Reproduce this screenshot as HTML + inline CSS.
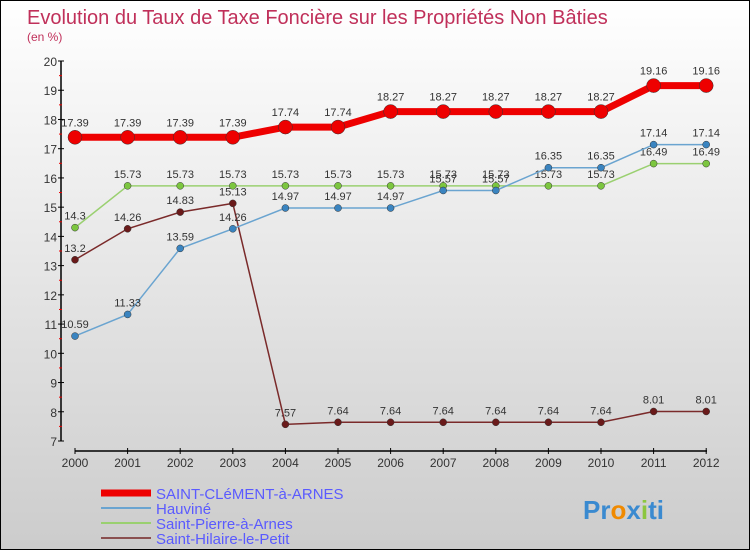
<!DOCTYPE html>
<html><head><meta charset="utf-8"><style>
body{margin:0}
#wrap{width:748px;height:548px;border:1px solid #000;background:linear-gradient(#fff,#ccc);position:relative;overflow:hidden;font-family:"Liberation Sans",sans-serif}
svg text{font-family:"Liberation Sans",sans-serif}
</style></head><body>
<div id="wrap">
<svg id="svg" width="748" height="548">
<text x="26" y="23" font-size="20" fill="#c0305a">Evolution du Taux de Taxe Foncière sur les Propriétés Non Bâties</text>
<text x="26" y="40" font-size="12" fill="#c0305a">(en %)</text>
<g id="axes"></g><g id="series"></g><g id="legend"></g>
<text x="582" y="518" font-size="26" font-weight="bold" fill="#3a8ad0">Pr<tspan fill="#f08a00">o</tspan>x<tspan fill="#8cc63f">i</tspan>ti</text>
</svg></div>
<script>
const years=[2000,2001,2002,2003,2004,2005,2006,2007,2008,2009,2010,2011,2012];
const yTicks=[7,8,9,10,11,12,13,14,15,16,17,18,19,20];
const seriesNames=["SAINT-CLéMENT-à-ARNES","Hauviné","Saint-Pierre-à-Arnes","Saint-Hilaire-le-Petit"];
const sClement=[17.39,17.39,17.39,17.39,17.74,17.74,18.27,18.27,18.27,18.27,18.27,19.16,19.16];
const sHauvine=[10.59,11.33,13.59,14.26,14.97,14.97,14.97,15.57,15.57,16.35,16.35,17.14,17.14];
const sPierre=[14.3,15.73,15.73,15.73,15.73,15.73,15.73,15.73,15.73,15.73,15.73,16.49,16.49];
const sHilaire=[13.2,14.26,14.83,15.13,7.57,7.64,7.64,7.64,7.64,7.64,7.64,8.01,8.01];
const NS="http://www.w3.org/2000/svg";
const X=i=>74+i*52.6;
const Y=v=>440-(v-7)*29.23;
function mk(tag,attrs,parent,txt){const e=document.createElementNS(NS,tag);for(const k in attrs)e.setAttribute(k,attrs[k]);if(txt!==undefined)e.textContent=txt;parent.appendChild(e);return e;}
const ax=document.getElementById('axes');
let e=mk('line',{x1:60,y1:60,x2:60,y2:440,stroke:'#000','stroke-width':1.5},ax);

e=mk('line',{x1:74,y1:450,x2:706,y2:450,stroke:'#000','stroke-width':1.5},ax);

yTicks.forEach((t,i)=>{mk('line',{x1:57,y1:Y(t),x2:63,y2:Y(t),stroke:'#000'},ax);
 if(i<yTicks.length-1)mk('line',{x1:58,y1:Y(t+0.5),x2:61,y2:Y(t+0.5),stroke:'#e00'},ax);
 e=mk('text',{x:56,y:Y(t)+5,'font-size':12,'text-anchor':'end',fill:'#333'},ax,t);
 });
years.forEach((y,i)=>{mk('line',{x1:X(i),y1:447,x2:X(i),y2:453,stroke:'#000'},ax);
 e=mk('text',{x:X(i),y:466,'font-size':12,'text-anchor':'middle',fill:'#333'},ax,y);
 });
const sg=document.getElementById('series');
const defs=[[sHilaire,'#7a2a2a','#6a1a1a',1.5,3.5,'saint-hilaire'],[sPierre,'#9ad070','#7cc63f',1.5,3.5,'saint-pierre'],[sHauvine,'#6aa4d0','#3a84c0',1.5,3.5,'hauvine'],[sClement,'#e00','#e00',7,7,'saint-clement']];
defs.forEach(([d,c,dc,w,r,n])=>{
 const g=mk('g',{},sg);
 e=mk('polyline',{points:d.map((v,i)=>X(i)+','+Y(v)).join(' '),fill:'none',stroke:c,'stroke-width':w},g);
 
 d.forEach((v,i)=>{e=mk('circle',{cx:X(i),cy:Y(v),r:r,fill:dc,stroke:'#333','stroke-width':0.5},g);
  
  e=mk('text',{x:X(i),y:Y(v)-(n==='saint-clement'?11:8),'font-size':11,'text-anchor':'middle',fill:'#333'},g,v);
  });
});
const lg=document.getElementById('legend');
const lc=[['#e00',7],['#6aa4d0',2],['#9ad070',2],['#8a5050',2]];
seriesNames.forEach((s,i)=>{const yy=492+i*15;
 e=mk('line',{x1:100,y1:yy,x2:150,y2:yy,stroke:lc[i][0],'stroke-width':lc[i][1]},lg);
 
 e=mk('text',{x:155,y:yy+6,'font-size':15,fill:'#5a5aff'},lg,s);
 });
</script>
</body></html>
